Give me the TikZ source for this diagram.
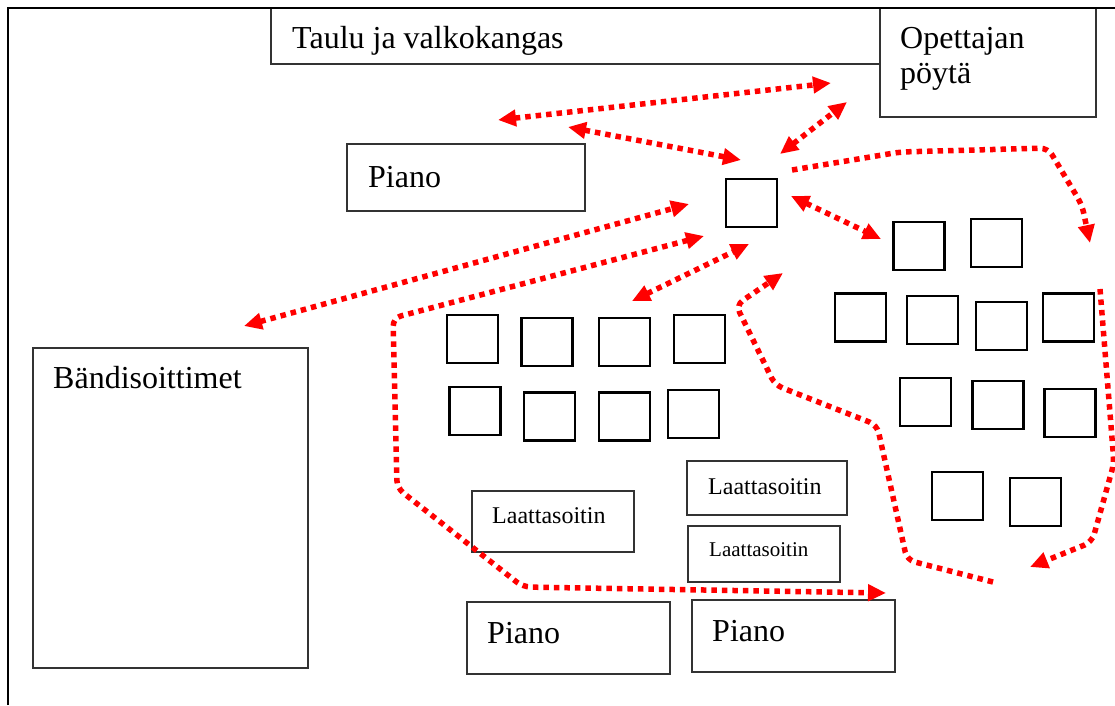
\documentclass[tikz,border=0pt]{standalone}
\usepackage{fontspec}
\setmainfont{Liberation Serif}
\usetikzlibrary{arrows.meta}
\tikzset{
  frame/.style={line width=2pt, black},
  bigbox/.style={draw=black!80, line width=1.5pt, inner sep=0pt, outer sep=0pt, fill=white},
  seat/.style={draw=black, line width=2.6pt, inner sep=0pt, outer sep=0pt, minimum width=51pt, minimum height=48pt, fill=white},
  lbl/.style={inner sep=0pt, anchor=base west, font=\fontsize{32}{36}\selectfont},
  lblm/.style={inner sep=0pt, anchor=base west, font=\fontsize{24}{28}\selectfont},
  lbls/.style={inner sep=0pt, anchor=base west, font=\fontsize{21}{25}\selectfont},
  route/.style={draw=red, line width=5.5pt, dash pattern=on 5.5pt off 5pt, rounded corners=8pt},
  tip/.style={-{Triangle[length=18pt,width=16pt]}},
  tips/.style={{Triangle[length=18pt,width=16pt]}-{Triangle[length=18pt,width=16pt]}},
}
\begin{document}
\begin{tikzpicture}[x=1pt,y=-1pt]
\useasboundingbox (0,0) rectangle (1115,705);
% boxes
\node[bigbox, minimum width=609pt, minimum height=56pt] (taulu) at (575.5,36) {};
\node[bigbox, minimum width=216pt, minimum height=109pt] (opet) at (988,62.5) {};
\node[bigbox, minimum width=238pt, minimum height=67pt] (piano1) at (466,177.5) {};
\node[bigbox, minimum width=275pt, minimum height=320pt] (bandi) at (170.5,508) {};
\node[bigbox, minimum width=162pt, minimum height=61pt] (laatta1) at (553,521.5) {};
\node[bigbox, minimum width=160pt, minimum height=54pt] (laatta2) at (767,488) {};
\node[bigbox, minimum width=152pt, minimum height=56pt] (laatta3) at (764,554) {};
\node[bigbox, minimum width=203pt, minimum height=72pt] (piano2) at (568.5,638) {};
\node[bigbox, minimum width=203pt, minimum height=72pt] (piano3) at (793.5,636) {};
% frame
\coordinate (fl) at (8,705);
\coordinate (ftl) at (8,8);
\coordinate (fr) at (1115,8);
\draw[frame] (fl) -- (ftl) -- (fr);
% labels
\node[lbl] (tTaulu) at (292,48) {Taulu ja valkokangas};
\node[lbl] (tOpet1) at (900,48) {Opettajan};
\node[lbl] (tOpet2) at (900,83) {pöytä};
\node[lbl] (tPiano1) at (368,187) {Piano};
\node[lbl] (tBandi) at (53,388) {Bändisoittimet};
\node[lblm] (tL1) at (492,523) {Laattasoitin};
\node[lblm] (tL2) at (708,494) {Laattasoitin};
\node[lbls] (tL3) at (709,556) {Laattasoitin};
\node[lbl] (tPiano2) at (487,643) {Piano};
\node[lbl] (tPiano3) at (712,641) {Piano};
% seats
\node[seat] (teacher) at (751.5,203) {};
\node[seat] (a1) at (472.5,339) {};
\node[seat] (a2) at (547,342) {};
\node[seat] (a3) at (624.5,342) {};
\node[seat] (a4) at (699.5,339) {};
\node[seat] (b1) at (475,411) {};
\node[seat] (b2) at (549.5,416.5) {};
\node[seat] (b3) at (624.5,416.5) {};
\node[seat] (b4) at (693.5,414) {};
\node[seat] (c1) at (919,246) {};
\node[seat] (c2) at (996.5,243) {};
\node[seat] (d1) at (860.5,317.5) {};
\node[seat] (d2) at (932.5,320) {};
\node[seat] (d3) at (1001.5,326) {};
\node[seat] (d4) at (1068.5,317.5) {};
\node[seat] (e1) at (925.5,402) {};
\node[seat] (e2) at (998,405) {};
\node[seat] (e3) at (1070,413) {};
\node[seat] (f1) at (957.5,496) {};
\node[seat] (f2) at (1035.5,502) {};
% route end points
\coordinate (p1a) at (498,120);  \coordinate (p1b) at (831,83);
\coordinate (p2a) at (568,127);  \coordinate (p2b) at (741,160);
\coordinate (p3a) at (780,154);  \coordinate (p3b) at (847,102);
\coordinate (p4a) at (791,196);  \coordinate (p4b) at (881,239);
\coordinate (p5a) at (244,326);  \coordinate (p5b) at (689,204);
\coordinate (p7a) at (632,301);  \coordinate (p7b) at (749,244);
\coordinate (p6a) at (704,236);  \coordinate (p6b) at (886,593);
\coordinate (p8a) at (993,582);  \coordinate (p8b) at (783,273);
\coordinate (p9a) at (792,170);  \coordinate (p9b) at (1090,243);
\coordinate (p10a) at (1100,289); \coordinate (p10b) at (1030,567);
% routes
\draw[route, tips] (p1a) -- (p1b);
\draw[route, tips] (p2a) -- (p2b);
\draw[route, tips] (p3a) -- (p3b);
\draw[route, tips] (p4a) -- (p4b);
\draw[route, tips] (p5a) -- (p5b);
\draw[route, tips] (p7a) -- (p7b);
\draw[route, tips] (p6a) -- (393,318) -- (397,488) -- (523,587) -- (p6b);
\draw[route, tip] (p8a) -- (907,560) -- (877,425) -- (775,385) -- (736,305) -- (p8b);
\draw[route, tip] (p9a) -- (900,152) -- (1048,148) -- (1082,205) -- (p9b);
\draw[route, tip] (p10a) -- (1114,463) -- (1092,542) -- (p10b);
\end{tikzpicture}
\end{document}
